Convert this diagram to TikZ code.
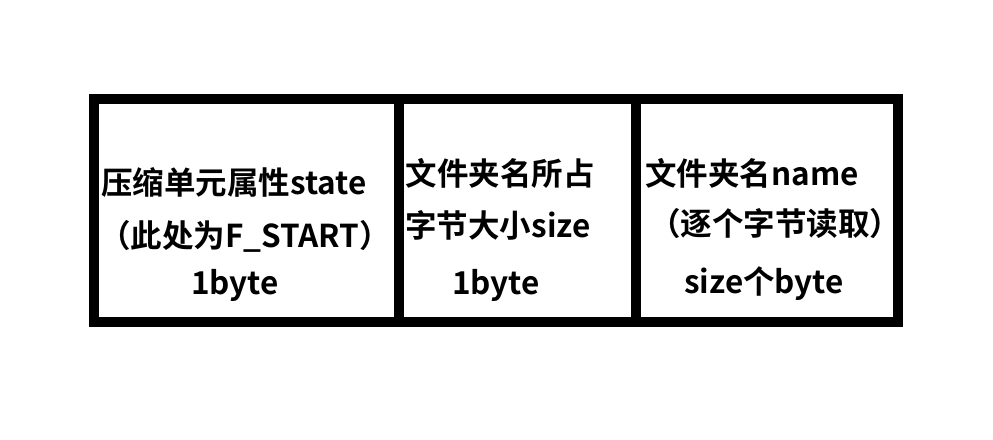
\documentclass[tikz,border=0pt]{standalone}
\usepackage{fontspec}
\setmainfont{Noto Sans CJK SC}[BoldFont={Noto Sans CJK SC Bold}]
\usepackage{tikz}

\begin{document}
\begin{tikzpicture}[x=1pt,y=-1pt,
  lbl/.style={anchor=base, inner sep=0pt, font=\fontsize{31.5}{38}\selectfont\bfseries}]
  \useasboundingbox (0,0) rectangle (993,439);
  \draw[line width=10pt] (94,99) rectangle (898,322);
  \draw[line width=10pt] (399,99) -- (399,322);
  \draw[line width=10pt] (636,99) -- (636,322);
  % state cell
  \node[lbl] (stateA) at (234,194) {压缩单元属性state};
  \node[lbl] (stateB) at (245,247) {（此处为F\_START）};
  \node[lbl] (stateC) at (235,294) {1byte};
  % size cell
  \node[lbl] (sizeA) at (500,185) {文件夹名所占};
  \node[lbl] (sizeB) at (498,237) {字节大小size};
  \node[lbl] (sizeC) at (496,294) {1byte};
  % name cell
  \node[lbl] (nameA) at (752,185) {文件夹名name};
  \node[lbl] (nameB) at (775,235) {（逐个字节读取）};
  \node[lbl] (nameC) at (764,293) {size个byte};
\end{tikzpicture}
\end{document}
